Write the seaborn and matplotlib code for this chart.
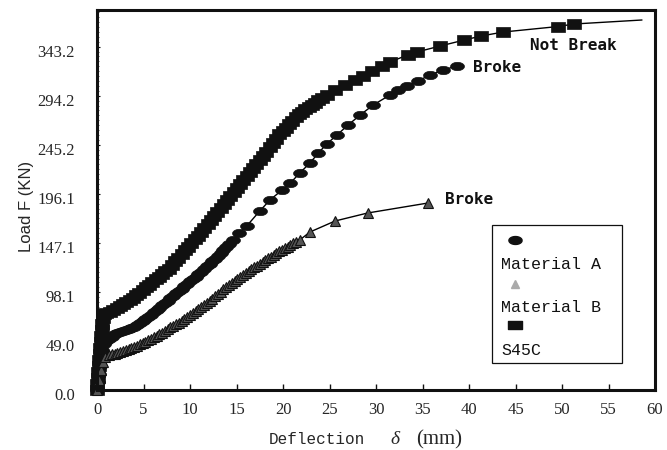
import numpy as np
import matplotlib
matplotlib.use("Agg")
import matplotlib.pyplot as plt
from matplotlib.path import Path
from matplotlib.ticker import MultipleLocator, FixedLocator
from matplotlib.transforms import ScaledTranslation
import seaborn as sns

# ---------------- data ----------------
s45c_x = [0, 0.05, 0.1, 0.15, 0.2, 0.25, 0.3, 0.35, 0.4, 0.45, 0.5, 0.55, 0.6, 0.8, 1.0,
          1.4, 1.75, 2.1, 2.45, 2.8, 3.15, 3.5, 3.85, 4.2, 4.55, 4.9, 5.25, 5.6, 5.95,
          6.3, 6.65, 7.0, 7.35, 7.7, 8.05, 8.4, 8.75, 9.1, 9.45, 9.8, 10.15, 10.5, 10.85,
          11.2, 11.55, 11.9, 12.25, 12.6, 12.95, 13.3, 13.65, 14.0, 14.35, 14.7, 15.05,
          15.4, 15.75, 16.1, 16.45, 16.8, 17.15, 17.5, 17.85, 18.2, 18.55, 18.9, 19.25,
          19.6, 19.95, 20.3, 20.65, 21.0, 21.35, 21.7, 22.05, 22.4, 22.75, 23.1, 23.45,
          23.8, 24.2, 24.7, 25.6, 26.7, 27.7, 28.6, 29.6, 30.6, 31.5, 33.4, 34.4, 36.9,
          39.5, 41.3, 43.7, 49.6, 51.3, 58.6]
s45c_y = [0, 6, 12, 18, 24, 30, 36, 42, 48, 54, 60, 66, 72, 76, 77,
          78, 80, 82, 84, 86.5, 88.5, 90.5, 92.5, 95, 97.5, 100, 103, 105.5, 108,
          111, 113.5, 116, 119, 121.5, 125, 129, 132.5, 136, 140, 143.5, 147, 151, 154.5,
          158, 162, 166, 170, 174.5, 178, 182.5, 186.5, 190, 194, 198, 202,
          206, 210, 214, 218, 222, 226, 230, 234, 238.5, 243, 247, 251.5,
          256, 259, 262.5, 266, 269.5, 273, 276, 278.5, 281, 283, 285.5, 287.5,
          290, 292.5, 295.5, 300.5, 305.5, 310, 314, 319, 324, 328, 335, 338, 344,
          350, 354, 358, 363.5, 366, 370]

matA_x = [0, 0.1, 0.2, 0.3, 0.4, 0.5, 0.7, 1.0, 1.3, 1.6, 1.9, 2.2, 2.5, 2.8, 3.1, 3.4,
          3.7, 4.0, 4.3, 4.6, 4.9, 5.2, 5.5, 5.8, 6.1, 6.4, 6.7, 7.0, 7.3, 7.6, 7.9, 8.2,
          8.5, 8.8, 9.1, 9.4, 9.7, 10.0, 10.3, 10.6, 10.9, 11.2, 11.5, 11.8, 12.1, 12.4,
          12.7, 13.0, 13.3, 13.6, 13.9, 14.2, 14.6, 15.3, 16.1, 17.5, 18.6, 19.9, 20.8,
          21.8, 22.9, 23.8, 24.7, 25.8, 27.0, 28.3, 29.7, 31.5, 32.4, 33.3, 34.5, 35.8,
          37.2, 38.7]
matA_y = [0, 8, 16, 24, 32, 40, 46, 49, 51, 53.5, 56, 57.5, 58.5, 59.5, 60.5, 61.5,
          62.5, 63.5, 65.5, 67.5, 69.5, 71.5, 73.5, 75.5, 78, 80, 82.5, 85, 87, 89.5, 92, 94.5,
          97, 99, 101.5, 104, 106.5, 109, 111, 113.5, 116, 118.5, 121.5, 124, 126.5, 129,
          131.5, 134, 137, 140, 143, 146, 150, 157, 164, 179, 190, 200, 207,
          217, 227, 237, 246, 255, 265, 275, 285, 295, 300, 304, 309, 315,
          320, 324]

matB_x = [0, 0.2, 0.4, 0.6, 0.9, 1.3, 1.6, 1.9, 2.2, 2.5, 2.8, 3.1, 3.4, 3.7, 4.0, 4.3,
          4.6, 4.9, 5.2, 5.5, 5.8, 6.1, 6.4, 6.7, 7.0, 7.3, 7.6, 7.9, 8.2, 8.5, 8.8, 9.1,
          9.4, 9.7, 10.0, 10.3, 10.6, 10.9, 11.2, 11.5, 11.8, 12.1, 12.4, 12.7, 13.0, 13.3,
          13.6, 13.9, 14.2, 14.5, 14.8, 15.1, 15.4, 15.7, 16.0, 16.3, 16.6, 16.9, 17.2,
          17.5, 17.8, 18.1, 18.4, 18.7, 19.0, 19.3, 19.6, 19.9, 20.2, 20.5, 20.8, 21.1,
          21.4, 21.8, 22.9, 25.6, 29.1, 35.6]
matB_y = [0, 10, 20, 28, 33, 35, 36, 36.5, 37.5, 38.5, 39.5, 40.5, 41.5, 42.5, 43.5, 44.5,
          46, 47, 48.5, 50, 51.5, 53, 54.5, 56, 57.5, 59.5, 61, 63, 64.5, 66, 67.5, 69.5,
          71, 73, 75, 77, 79, 81, 83, 85, 87.5, 89.5, 91.5, 94, 96.5, 98.5,
          101, 103, 105, 107, 109, 111.5, 113, 115, 117, 119, 121, 123, 124.5,
          126.5, 128, 130, 132, 133.5, 135.5, 137, 139, 140.5, 142, 143.5, 145.5, 147,
          148.5, 150, 158, 169, 177, 187]

x_ticks = [0, 5, 10, 15, 20, 25, 30, 35, 40, 45, 50, 55, 60]
y_ticks = [0, 49.05, 98.1, 147.15, 196.2, 245.25, 294.3, 343.35]
y_tick_labels = ["0.0", "49.0", "98.1", "147.1", "196.1", "245.2", "294.2", "343.2"]
series_names = ["Material A", "Material B", "S45C"]

# ---------------- style ----------------
sns.set_style("white")
plt.rcParams["font.family"] = ["Liberation Serif", "DejaVu Serif"]

fig = plt.figure(figsize=(6.67, 4.5), dpi=100)
ax = fig.add_axes([97 / 667, 60 / 450, 558 / 667, 380 / 450])

# custom marker shapes
t = np.linspace(0, 2 * np.pi, 40)
ellipse = Path(np.column_stack([np.cos(t), 0.6 * np.sin(t)]))
rect = Path([(-1, -0.65), (1, -0.65), (1, 0.65), (-1, 0.65), (-1, -0.65)],
            [Path.MOVETO, Path.LINETO, Path.LINETO, Path.LINETO, Path.CLOSEPOLY])

common = dict(estimator=None, sort=False, ax=ax, color="black", linewidth=1.0,
              clip_on=False, legend=False)

sns.lineplot(x=s45c_x, y=s45c_y, marker=rect, markersize=10,
             markerfacecolor="#111111", markeredgecolor="#111111", markeredgewidth=0.5,
             markevery=slice(0, len(s45c_x) - 1), zorder=3, **common)
sns.lineplot(x=matA_x, y=matA_y, marker=ellipse, markersize=10,
             markerfacecolor="#111111", markeredgecolor="#111111", markeredgewidth=0.5,
             zorder=3, **common)
sns.lineplot(x=matB_x, y=matB_y, marker="^", markersize=6.5,
             markerfacecolor="#555555", markeredgecolor="#111111", markeredgewidth=0.8,
             zorder=3, **common)

ax.set_xlim(0, 60)
ax.set_ylim(0, 380)
ax.set_xlabel("")
ax.set_ylabel("")

for sp in ax.spines.values():
    sp.set_visible(True)
    sp.set_linewidth(2.2)
    sp.set_color("#111111")
    sp.set_zorder(5)

ax.xaxis.set_major_locator(FixedLocator(x_ticks))
ax.set_xticklabels([str(v) for v in x_ticks])
ax.yaxis.set_major_locator(FixedLocator(y_ticks))
ax.set_yticklabels(y_tick_labels)
ax.yaxis.set_minor_locator(MultipleLocator(4.905))

ax.tick_params(axis="x", which="major", direction="in", length=4, width=1.0,
               pad=9, labelsize=12, color="#111111", bottom=True, top=False)
ax.tick_params(axis="y", which="major", direction="in", length=2.5, width=0.8,
               pad=16, labelsize=12, color="#111111", left=True, right=False)
ax.tick_params(axis="y", which="minor", direction="in", length=1.6, width=0.6,
               color="#333333", left=True, right=False)
ax.tick_params(axis="x", which="minor", bottom=False)

off = ScaledTranslation(0, -3 / 72, fig.dpi_scale_trans)
for lab in ax.get_yticklabels():
    lab.set_transform(lab.get_transform() + off)

# axis titles
fig.text(27 / 667, 1 - 206 / 450, "Load F (KN)", rotation=90, ha="center", va="center",
         fontsize=12, family=["Liberation Sans", "DejaVu Sans"])
fig.text(317 / 667, 1 - 440 / 450, "Deflection", ha="center", va="center",
         fontsize=11.5, family=["Liberation Mono", "DejaVu Sans Mono"])
fig.text(395 / 667, 1 - 440 / 450, "δ", ha="center", va="center",
         fontsize=14, style="italic", family=["Liberation Serif", "DejaVu Serif"])
fig.text(439 / 667, 1 - 440 / 450, "(mm)", ha="center", va="center",
         fontsize=15, family=["Liberation Serif", "DejaVu Serif"])

# annotations
ann_font = dict(fontsize=11.5, fontweight="bold", family=["DejaVu Sans Mono"],
                va="center", ha="left", color="#111111")
ax.text(46.6, 345, "Not Break", **ann_font)
ax.text(40.4, 323, "Broke", **ann_font)
ax.text(37.4, 191, "Broke", **ann_font)

# legend (marker above label)
ax.add_patch(plt.Rectangle((0.708, 0.071), 0.233, 0.363, transform=ax.transAxes,
                           fill=False, edgecolor="#111111", linewidth=0.9, zorder=6))
ax.plot([0.749], [0.395], transform=ax.transAxes, marker=ellipse, markersize=9.5,
        color="#111111", linestyle="none", zorder=7, clip_on=False)
ax.plot([0.749], [0.279], transform=ax.transAxes, marker="^", markersize=6,
        markerfacecolor="#aaaaaa", markeredgecolor="#aaaaaa", linestyle="none",
        zorder=7, clip_on=False)
ax.plot([0.749], [0.171], transform=ax.transAxes, marker=rect, markersize=9.5,
        color="#111111", linestyle="none", zorder=7, clip_on=False)
leg_font = dict(fontsize=12, family=["Liberation Mono", "DejaVu Sans Mono"],
                va="center", ha="left", transform=ax.transAxes, zorder=7, color="#111111")
for name, yy in zip(series_names, [0.329, 0.218, 0.105]):
    ax.text(0.724, yy, name, **leg_font)

fig.savefig("out.png", dpi=100, facecolor="white")
